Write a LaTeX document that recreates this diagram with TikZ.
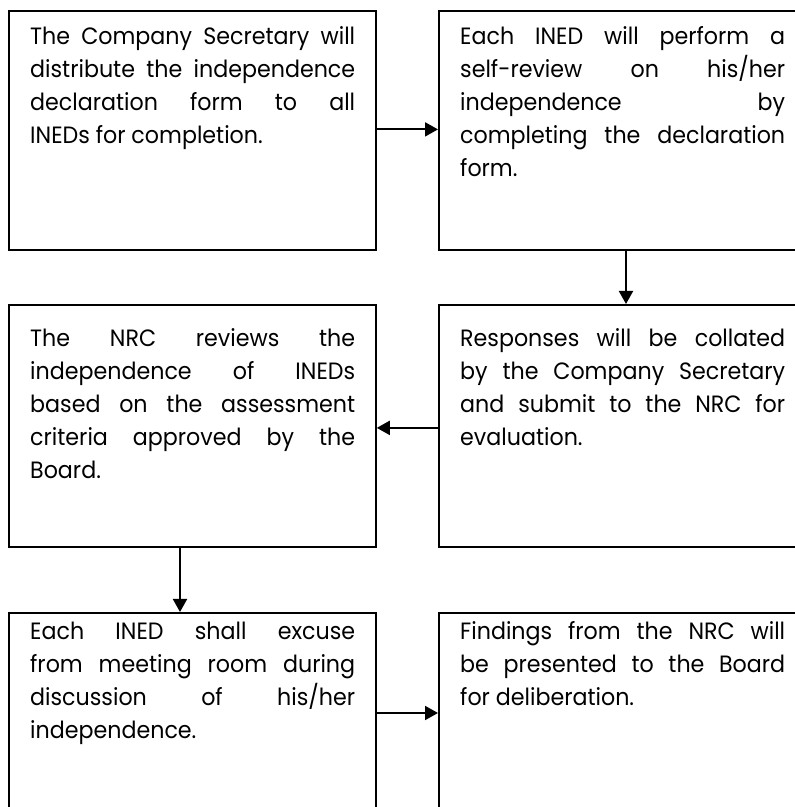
\documentclass[tikz,border=0pt]{standalone}
\usepackage{fontspec}
\setmainfont{Poppins}[FakeStretch=0.94]
\usetikzlibrary{arrows.meta}
\newcommand{\boxtext}[1]{\parbox[t]{325pt}{\fontsize{23.6}{33}\selectfont\hyphenpenalty=10000 #1}}
\begin{document}
\begin{tikzpicture}[x=1pt,y=1pt,
  stepbox/.style={draw=black, line width=1.8pt, rectangle, minimum width=367pt, minimum height=239pt, inner sep=0pt, anchor=north west},
  txt/.style={anchor=base west, inner sep=0pt, text=black},
  arr/.style={line width=2pt, -{Triangle[length=13pt,width=14pt]}}]
\useasboundingbox (0,0) rectangle (795,807);
\begin{scope}
\clip (0,0) rectangle (795,807);
% boxes (y measured from top: 807 - y)
\node[stepbox] (a) at (8,797) {};
\node[stepbox] (b) at (438,797) {};
\node[stepbox, minimum height=242pt] (d) at (438,503) {};
\node[stepbox, minimum height=242pt] (c) at (8,503) {};
\node[stepbox] (e) at (8,195) {};
\node[stepbox] (f) at (438,195) {};
\end{scope}
% texts
\node[txt] (ta) at (30,762) {\boxtext{The Company Secretary will\linebreak distribute the independence\linebreak declaration form to all\linebreak INEDs for completion.}};
\node[txt] (tb) at (460,762) {\boxtext{Each INED will perform a\linebreak self-review on his/her\linebreak independence by\linebreak completing the declaration\linebreak form.}};
\node[txt] (td) at (460,460) {\boxtext{Responses will be collated\linebreak by the Company Secretary\linebreak and submit to the NRC for\linebreak evaluation.}};
\node[txt] (tc) at (30,460) {\boxtext{The NRC reviews the\linebreak independence of INEDs\linebreak based on the assessment\linebreak criteria approved by the\linebreak Board.}};
\node[txt] (te) at (30,167) {\boxtext{Each INED shall excuse\linebreak from meeting room during\linebreak discussion of his/her\linebreak independence.}};
\node[txt] (tf) at (460,167) {\boxtext{Findings from the NRC will\linebreak be presented to the Board\linebreak for deliberation.}};
% connectors
\draw[arr] ([yshift=1pt]a.east) -- ([yshift=1pt]b.west);
\draw[arr] ([xshift=188pt]b.south west) -- ([xshift=188pt]d.north west);
\draw[arr] ([yshift=-2pt]d.west) -- ([yshift=-2pt]c.east);
\draw[arr] ([xshift=172pt]c.south west) -- ([xshift=172pt]e.north west);
\draw[arr] ([yshift=-101pt]e.north east) -- ([yshift=-101pt]f.north west);
\end{tikzpicture}
\end{document}
